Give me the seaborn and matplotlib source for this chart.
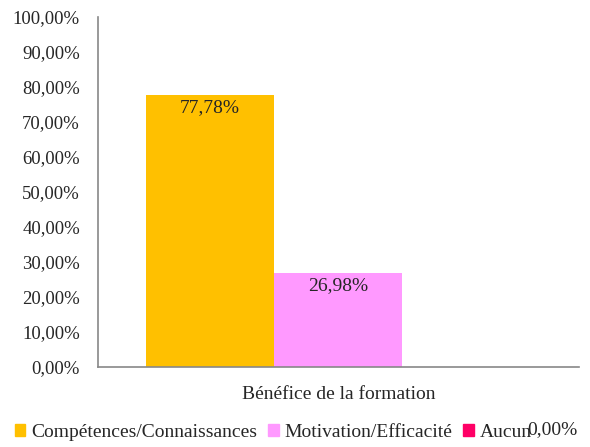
import pandas as pd
import seaborn as sns
import matplotlib.pyplot as plt
from matplotlib.ticker import FuncFormatter

categorie = ["Bénéfice de la formation"]
reponses = ["Compétences/Connaissances", "Motivation/Efficacité", "Aucun"]
pourcentages = [77.78, 26.98, 0.00]
couleurs = ["#FFC000", "#FF99FF", "#FF0066"]

df = pd.DataFrame({"cat": categorie * 3, "rep": reponses, "val": pourcentages})

sns.set_style("white")
plt.rcParams['font.family'] = ['Liberation Serif', 'DejaVu Serif']

fig = plt.figure(figsize=(5.9, 4.47), dpi=100)
ax = fig.add_axes([0.166, 0.179, 0.815, 0.783])

sns.barplot(data=df, x="cat", y="val", hue="rep", palette=couleurs,
            width=0.8, saturation=1, linewidth=0, ax=ax, legend=True)

def fmt(v):
    return f"{v:.2f}".replace(".", ",") + "%"

ax.set_ylim(0, 100)
ax.set_yticks(range(0, 101, 10))
ax.yaxis.set_major_formatter(FuncFormatter(lambda v, p: fmt(v)))
ax.tick_params(axis="y", labelsize=13.5, length=0, pad=13)
ax.tick_params(axis="x", labelsize=14, length=0, pad=14)
ax.set_xlabel("")
ax.set_ylabel("")
for s in ["top", "right"]:
    ax.spines[s].set_visible(False)
for s in ["left", "bottom"]:
    ax.spines[s].set_color("#888888")
    ax.spines[s].set_linewidth(1.2)

# etiquettes de donnees
for bar, v in zip(ax.patches[:2], pourcentages[:2]):
    ax.text(bar.get_x() + bar.get_width() / 2, v - 1.2, fmt(v),
            ha="center", va="top", fontsize=14)
ax.text(0.945, -0.18, fmt(pourcentages[2]), transform=ax.transAxes,
        ha="center", va="center", fontsize=14)

ax.legend_.remove()
handles = [plt.Rectangle((0, 0), 1, 1, color=c) for c in couleurs]
fig.legend(handles, reponses, loc="center left", bbox_to_anchor=(0.025, 0.033),
           ncol=3, frameon=False, fontsize=14, handlelength=0.55, handleheight=0.55,
           handletextpad=0.3, columnspacing=0.55, borderpad=0, borderaxespad=0)

plt.savefig("out.png", dpi=100)
